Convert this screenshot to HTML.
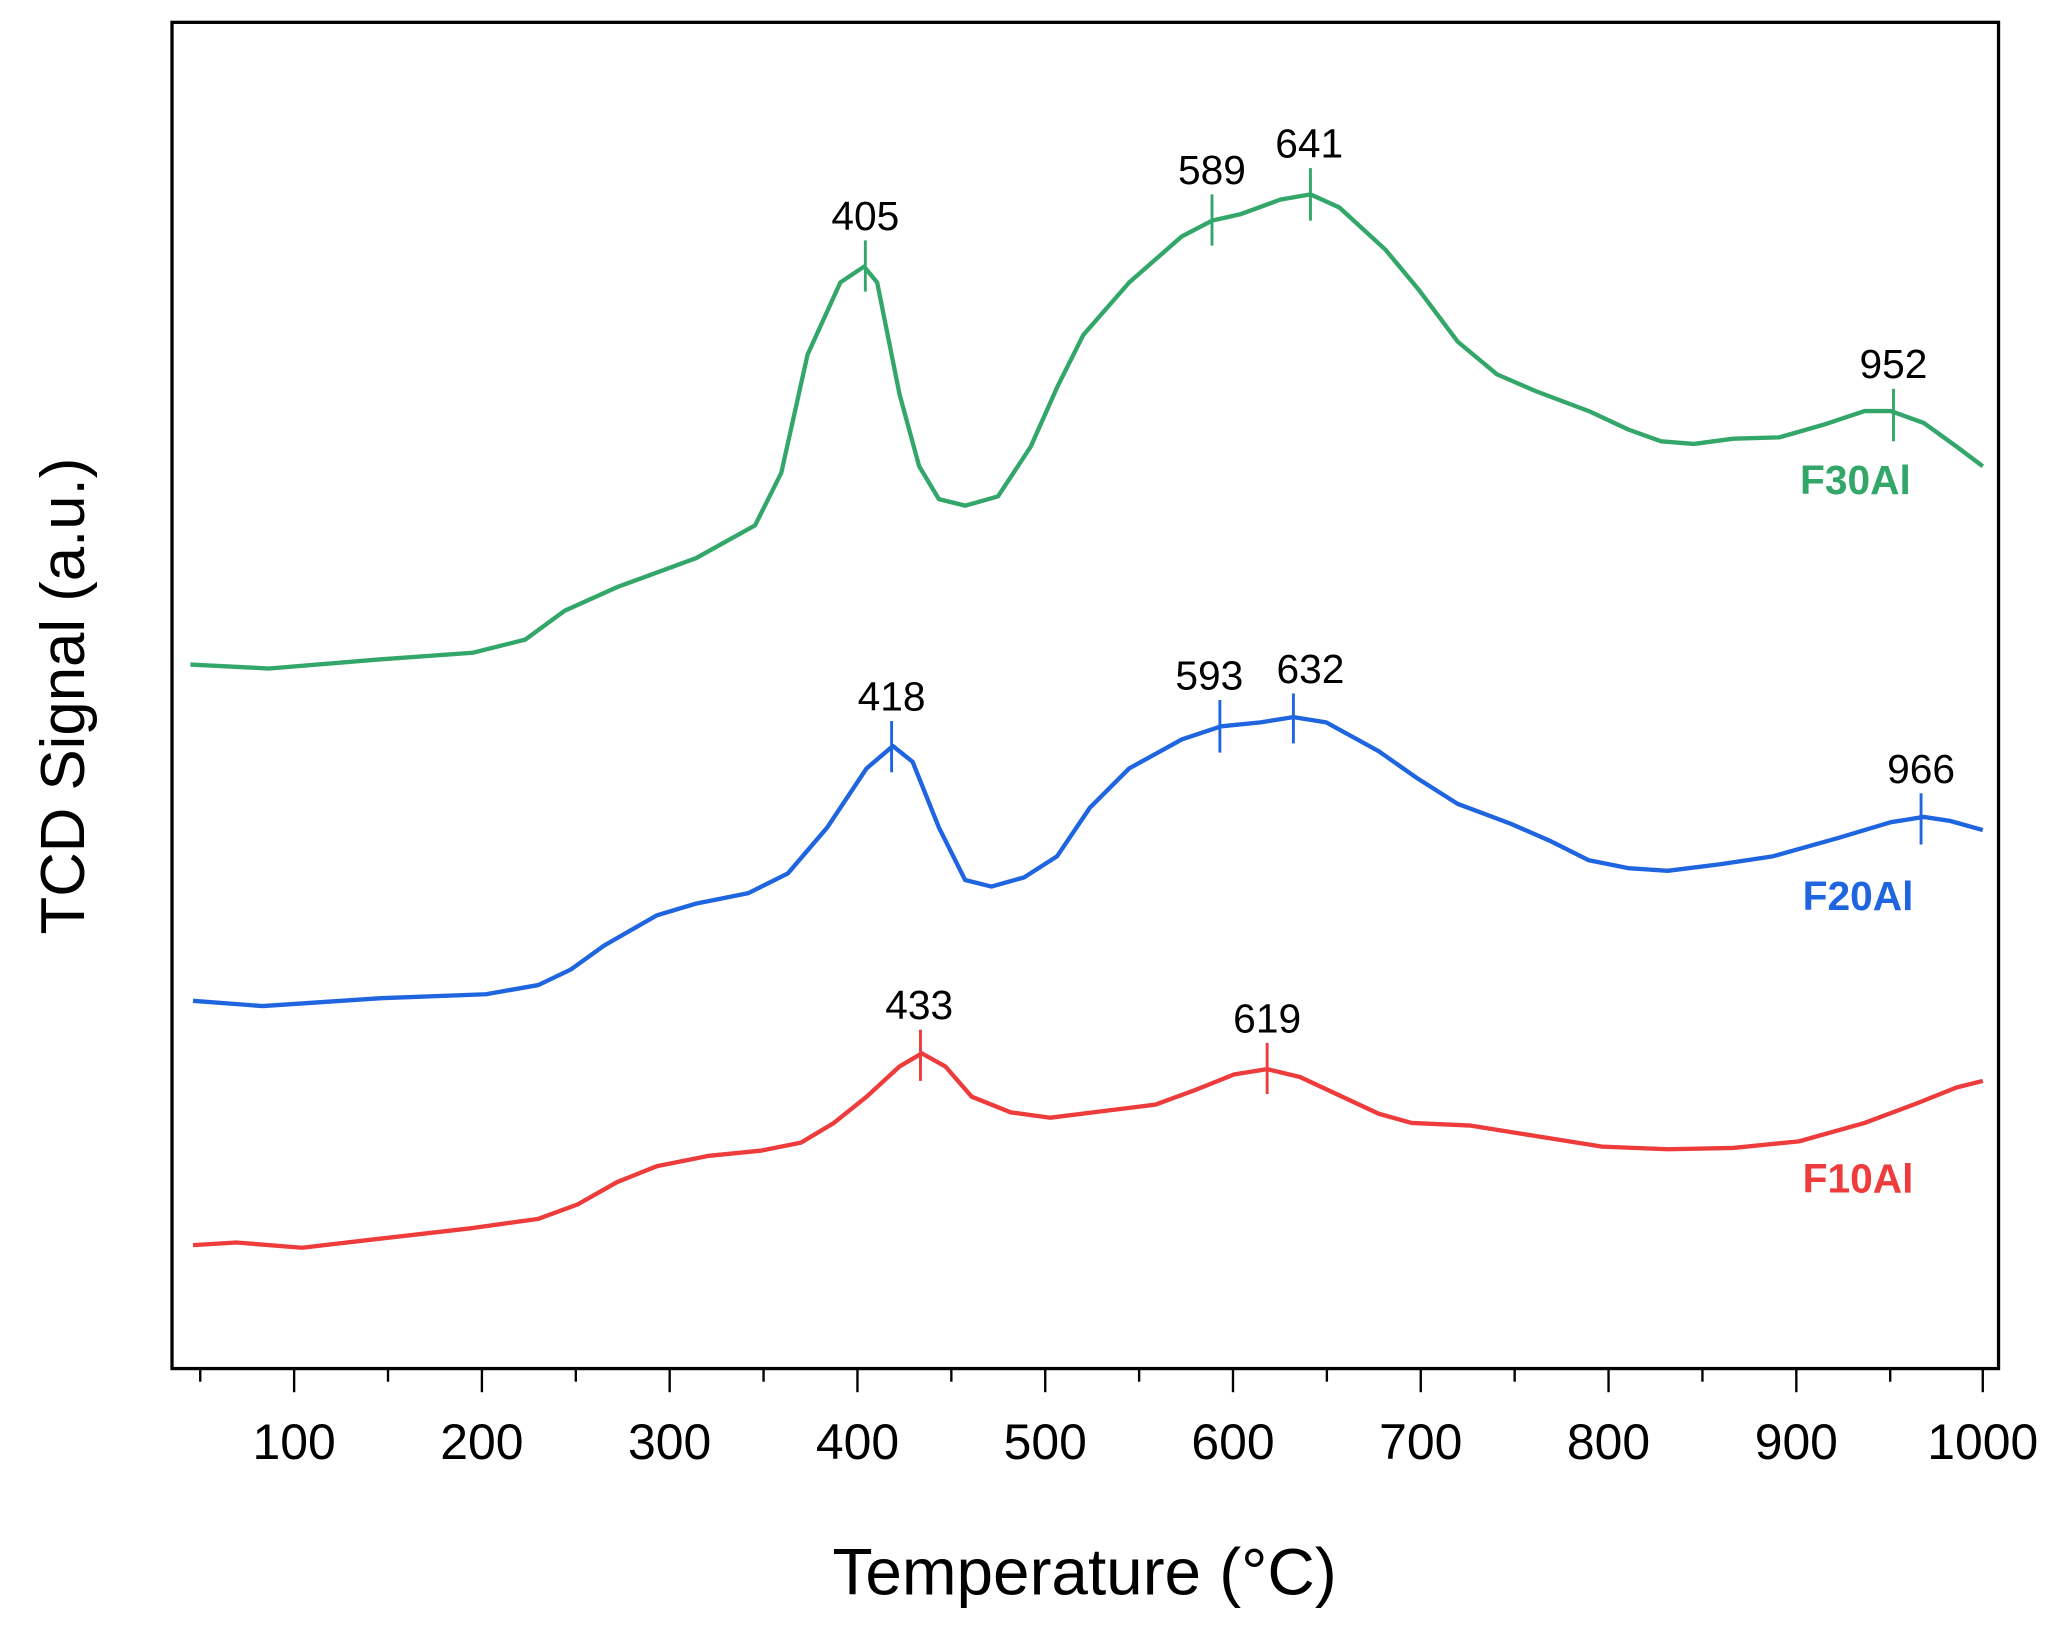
<!DOCTYPE html>
<html><head><meta charset="utf-8"><style>
html,body{margin:0;padding:0;background:#fff;}
svg{display:block;}
text{font-family:"Liberation Sans",Arial,sans-serif;}
</style></head><body>
<svg width="2055" height="1626" viewBox="0 0 1565 1238" preserveAspectRatio="none" xmlns="http://www.w3.org/2000/svg">
<rect width="1565" height="1238" fill="#fff"/>
<rect x="131" y="17" width="1391" height="1025" fill="none" stroke="#000" stroke-width="2.5"/>
<g stroke="#000" stroke-width="1.8">
<line x1="152.5" y1="1042" x2="152.5" y2="1052"/>
<line x1="224" y1="1042" x2="224" y2="1060"/>
<line x1="295.5" y1="1042" x2="295.5" y2="1052"/>
<line x1="367" y1="1042" x2="367" y2="1060"/>
<line x1="438.5" y1="1042" x2="438.5" y2="1052"/>
<line x1="510" y1="1042" x2="510" y2="1060"/>
<line x1="581.5" y1="1042" x2="581.5" y2="1052"/>
<line x1="653" y1="1042" x2="653" y2="1060"/>
<line x1="724.5" y1="1042" x2="724.5" y2="1052"/>
<line x1="796" y1="1042" x2="796" y2="1060"/>
<line x1="867.5" y1="1042" x2="867.5" y2="1052"/>
<line x1="939" y1="1042" x2="939" y2="1060"/>
<line x1="1010.5" y1="1042" x2="1010.5" y2="1052"/>
<line x1="1082" y1="1042" x2="1082" y2="1060"/>
<line x1="1153.5" y1="1042" x2="1153.5" y2="1052"/>
<line x1="1225" y1="1042" x2="1225" y2="1060"/>
<line x1="1296.5" y1="1042" x2="1296.5" y2="1052"/>
<line x1="1368" y1="1042" x2="1368" y2="1060"/>
<line x1="1439.5" y1="1042" x2="1439.5" y2="1052"/>
<line x1="1510" y1="1042" x2="1510" y2="1060"/>
</g>
<g font-size="38" text-anchor="middle" fill="#000">
<text x="224" y="1111">100</text><text x="367" y="1111">200</text><text x="510" y="1111">300</text>
<text x="653" y="1111">400</text><text x="796" y="1111">500</text><text x="939" y="1111">600</text>
<text x="1082" y="1111">700</text><text x="1225" y="1111">800</text><text x="1368" y="1111">900</text>
<text x="1510" y="1111">1000</text>
</g>
<text x="826" y="1214" font-size="50" text-anchor="middle">Temperature (°C)</text>
<text transform="translate(64,530) rotate(-90)" font-size="47" text-anchor="middle">TCD Signal (a.u.)</text>

<g fill="none" stroke-width="3.3" stroke-linejoin="round">
<polyline stroke="#33a66a" points="145,506 205,509 290,502 360,497 400,487 430,465 470,447 530,425 575,400 595,360 615,270 640,215 658,203 668,215 685,300 700,355 715,380 735,385 760,378 785,340 805,295 825,255 860,215 900,180 923,168 945,163 975,152 998,148 1020,158 1055,190 1080,220 1110,260 1140,285 1170,298 1210,313 1240,327 1265,336 1290,338 1320,334 1355,333 1390,323 1420,313 1440,313 1465,322 1490,340 1510,355"/>
<polyline stroke="#1f65e0" points="147,762 200,766 290,760 370,757 410,750 435,738 460,720 500,697 530,688 570,680 600,665 630,630 660,585 680,568 695,580 715,630 735,670 755,675 780,668 805,652 830,615 860,585 900,563 930,553 960,550 985,546 1010,550 1050,572 1080,593 1110,612 1150,627 1180,640 1210,655 1240,661 1270,663 1310,658 1350,652 1400,638 1440,626 1465,622 1485,625 1510,632"/>
<polyline stroke="#ee3b3b" points="147,948 180,946 230,950 290,943 360,935 410,928 440,917 470,900 500,888 540,880 580,876 610,870 635,855 660,835 685,812 702,802 720,812 740,835 770,847 800,851 840,846 880,841 910,830 940,818 965,814 990,820 1020,834 1050,848 1075,855 1120,857 1170,865 1220,873 1270,875 1320,874 1370,869 1420,855 1460,840 1490,828 1510,823"/>
</g>
<g stroke-width="2.2">
<line x1="659" y1="183" x2="659" y2="222" stroke="#33a66a"/>
<line x1="923" y1="148" x2="923" y2="187" stroke="#33a66a"/>
<line x1="998" y1="128" x2="998" y2="168" stroke="#33a66a"/>
<line x1="1442" y1="296" x2="1442" y2="336" stroke="#33a66a"/>
<line x1="679" y1="549" x2="679" y2="588" stroke="#1f65e0"/>
<line x1="929" y1="533" x2="929" y2="573" stroke="#1f65e0"/>
<line x1="985" y1="528" x2="985" y2="566" stroke="#1f65e0"/>
<line x1="1463" y1="604" x2="1463" y2="643" stroke="#1f65e0"/>
<line x1="701" y1="784" x2="701" y2="823" stroke="#ee3b3b"/>
<line x1="965" y1="794" x2="965" y2="833" stroke="#ee3b3b"/>
</g>
<g font-size="31" text-anchor="middle" fill="#000">
<text x="659" y="175">405</text><text x="923" y="140">589</text><text x="997" y="120">641</text><text x="1442" y="288">952</text>
<text x="679" y="541">418</text><text x="921" y="525">593</text><text x="998" y="520">632</text><text x="1463" y="596">966</text>
<text x="700" y="776">433</text><text x="965" y="786">619</text>
</g>
<g font-size="31" font-weight="bold" text-anchor="middle">
<text x="1413" y="376" fill="#33a66a">F30Al</text>
<text x="1415" y="693" fill="#1f65e0">F20Al</text>
<text x="1415" y="908" fill="#ee3b3b">F10Al</text>
</g>
</svg>
</body></html>
